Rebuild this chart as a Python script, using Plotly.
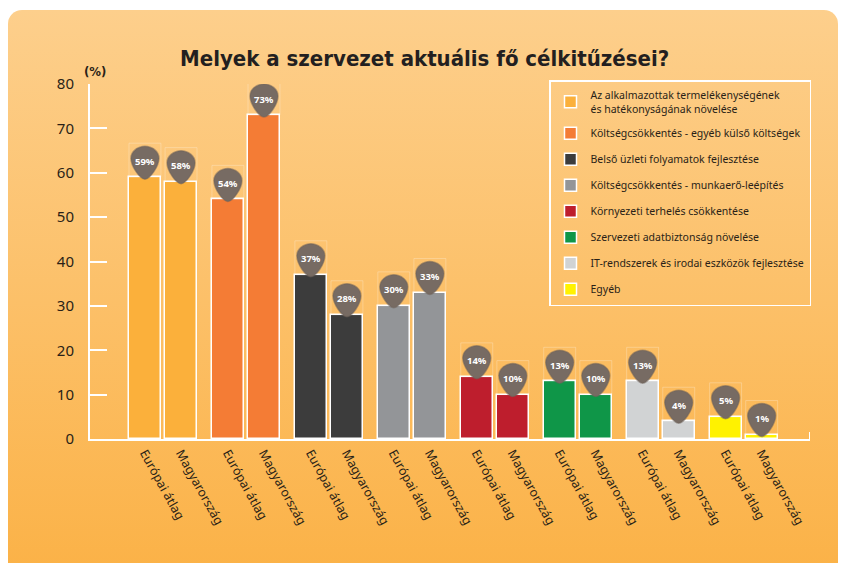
import base64
import plotly.graph_objects as go

# ---- data ----
categories = [
    "Az alkalmazottak termelékenységének<br>és hatékonyságának növelése",
    "Költségcsökkentés - egyéb külső költségek",
    "Belső üzleti folyamatok fejlesztése",
    "Költségcsökkentés - munkaerő-leépítés",
    "Környezeti terhelés csökkentése",
    "Szervezeti adatbiztonság növelése",
    "IT-rendszerek és irodai eszközök fejlesztése",
    "Egyéb",
]
series_names = ["Európai átlag", "Magyarország"]
europe = [59, 54, 37, 30, 14, 13, 13, 5]
hungary = [58, 73, 28, 33, 10, 10, 4, 1]
colors = ["#FBB03B", "#F47C35", "#3C3C3C", "#939598",
          "#BE1E2D", "#0F9648", "#D1D3D4", "#FFF200"]
y_ticks = [0, 10, 20, 30, 40, 50, 60, 70, 80]

W, H = 841, 563
OFF = 0.2175
BW = 0.385
TXT = "#2a1f17"
FONT = "Noto Sans"
PICK = ("M 0,-2 C 5,-2 14,11 14,19 C 14,26 7,31 0,31 "
        "C -7,31 -14,26 -14,19 C -14,11 -5,-2 0,-2 Z")

fig = go.Figure()
tickvals, ticktext = [], []
for g, (cat, e, h, c) in enumerate(zip(categories, europe, hungary, colors)):
    xs = [g - OFF, g + OFF]
    ys = [e, h]
    fig.add_trace(go.Bar(
        x=xs, y=ys, width=BW, name=cat, legendgroup=f"g{g}",
        marker=dict(color=c, line=dict(color="white", width=1.5)),
        hoverinfo="y",
    ))
    for x, y, s in zip(xs, ys, series_names):
        tickvals.append(x)
        ticktext.append(s)
        # faint frame above bar
        fig.add_shape(type="rect", xref="x", yref="y",
                      x0=x - BW / 2, x1=x + BW / 2,
                      ysizemode="pixel", yanchor=y, y0=0, y1=34,
                      line=dict(color="rgba(255,255,255,0.25)", width=1))
        # pick-shaped bubble
        fig.add_shape(type="path", xref="x", yref="y",
                      xsizemode="pixel", ysizemode="pixel",
                      xanchor=x, yanchor=y, path=PICK,
                      fillcolor="#776B63", line=dict(color="rgba(110,98,90,0.5)", width=1.5))
        fig.add_annotation(x=x, y=y, yshift=16, text=f"<b>{y}%</b>",
                           showarrow=False,
                           font=dict(family=FONT, size=9.5, color="white"))

# right-end tick of x axis
fig.add_shape(type="line", xref="x", yref="y", x0=7.8, x1=7.8,
              ysizemode="pixel", yanchor=0, y0=0, y1=7,
              line=dict(color="white", width=2))

# background gradient panel
svg = f'''<svg xmlns="http://www.w3.org/2000/svg" width="{W}" height="{H}" viewBox="0 0 {W} {H}">
<defs><linearGradient id="g" x1="0" y1="0" x2="0" y2="1">
<stop offset="0" stop-color="#FDCF8C"/><stop offset="1" stop-color="#FBB145"/>
</linearGradient></defs>
<rect x="8" y="10" width="830" height="580" rx="14" ry="14" fill="url(#g)"/>
</svg>'''
src = "data:image/svg+xml;base64," + base64.b64encode(svg.encode()).decode()
fig.add_layout_image(source=src, xref="paper", yref="paper", x=0, y=1,
                     sizex=1, sizey=1, xanchor="left", yanchor="top",
                     sizing="stretch", layer="below")

fig.add_annotation(xref="paper", yref="paper", x=425 / W, y=1 - 44 / H,
                   text="<b>Melyek a szervezet aktuális fő célkitűzései?</b>",
                   showarrow=False,
                   font=dict(family="DejaVu Sans Condensed, DejaVu Sans, sans-serif",
                             size=22, color="#231F20"))
fig.add_annotation(xref="paper", yref="paper", x=82 / W, y=1 - 62 / H,
                   text="<b>(%)</b>", showarrow=False,
                   font=dict(family="DejaVu Sans Condensed, sans-serif", size=13, color=TXT))

fig.update_layout(
    width=W, height=H,
    margin=dict(l=0, r=0, t=0, b=0),
    paper_bgcolor="white", plot_bgcolor="rgba(0,0,0,0)",
    barmode="overlay", bargap=0,
    showlegend=True,
    legend=dict(x=549 / W, y=1 - 80 / H, xanchor="left", yanchor="top",
                bgcolor="rgba(0,0,0,0)", bordercolor="white", borderwidth=1.5,
                font=dict(family=FONT, size=10.5, color=TXT),
                tracegroupgap=7, itemwidth=30),
    xaxis=dict(domain=[90 / W, 810 / W], range=[-0.88, 7.8],
               tickmode="array", tickvals=tickvals, ticktext=ticktext,
               tickangle=61, ticks="", showgrid=False, zeroline=False,
               showline=True, linecolor="white", linewidth=2,
               tickfont=dict(family=FONT, size=12.5, color=TXT),
               automargin=False, fixedrange=True),
    yaxis=dict(domain=[1 - 439 / H, 1 - 84 / H], range=[0, 80],
               tickmode="array", tickvals=y_ticks,
               ticks="inside", ticklen=17, tickwidth=2, tickcolor="white",
               ticklabelstandoff=11,
               showgrid=False, zeroline=False,
               showline=True, linecolor="white", linewidth=2,
               tickfont=dict(family=FONT, size=15, color=TXT),
               automargin=False, fixedrange=True),
)

fig.write_html("out.html")
